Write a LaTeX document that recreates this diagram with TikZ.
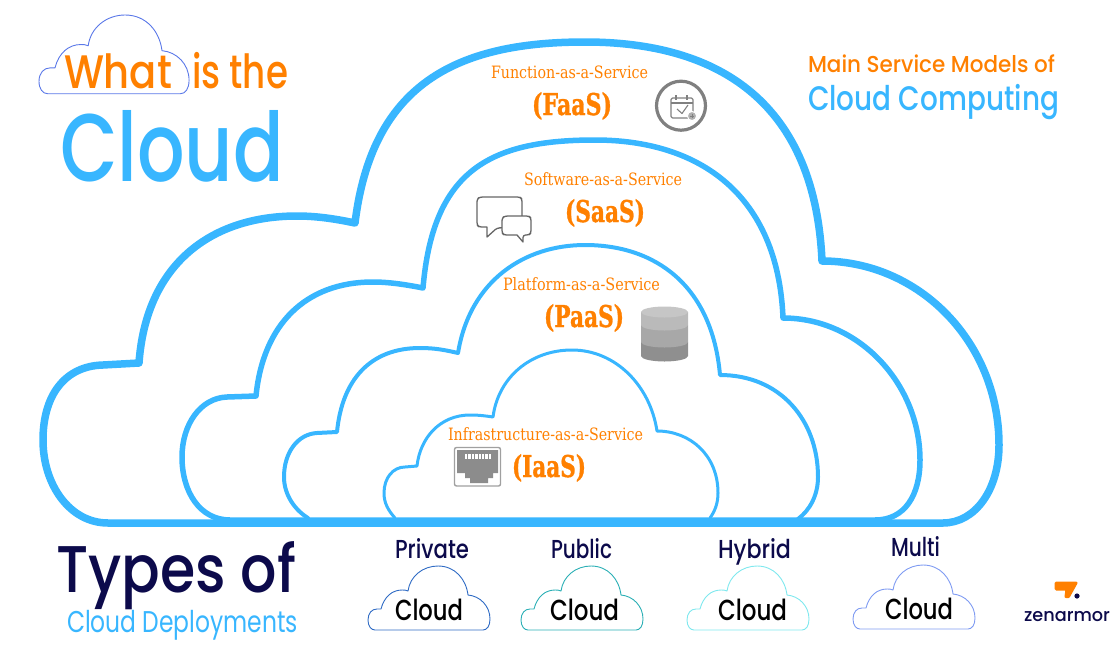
\documentclass[tikz,border=0pt]{standalone}
\usepackage{graphicx}
\usepackage{fontspec}
\setmainfont{DejaVu Serif}
\newfontfamily\serb[BoldFont={DejaVu Serif Bold},BoldFeatures={FakeBold=1.2}]{DejaVu Serif}
\newfontfamily\geo{Poppins}
\newfontfamily\geomed{Poppins Medium}
\definecolor{skyb}{HTML}{38B6FF}
\definecolor{orng}{HTML}{FF8000}
\definecolor{navy}{HTML}{0C0A4B}
\definecolor{iconbase}{HTML}{808080}
\definecolor{cwhat}{HTML}{5A78E8}
\definecolor{cpriv}{HTML}{2F6BC4}
\definecolor{cpub}{HTML}{2BAFB5}
\definecolor{chyb}{HTML}{7FE8EE}
\definecolor{cmul}{HTML}{7F9BF2}
\definecolor{cplus}{HTML}{B0B0B0}
\definecolor{cchat}{HTML}{666666}
\definecolor{db0}{HTML}{C6C6C6}
\definecolor{db1}{HTML}{BABABA}
\definecolor{db2}{HTML}{A8A8A8}
\definecolor{db3}{HTML}{8F8F8F}
\definecolor{ceth}{HTML}{A0A0A0}
\definecolor{cethf}{HTML}{8C8C8C}
\newcommand\fitw[2]{\resizebox{#1pt}{\height}{#2}}
\newcommand\smallcloud[5]{\draw[line width=#5,color=#1,line join=round,shift={(#2,#3)},scale=#4]
 (7,64) .. controls (3,64) and (0,60) .. (0,54) .. controls (0,47) and (4,43) .. (9,43) -- (13,43)
 .. controls (16,31) and (24,24) .. (34,24) .. controls (36,24) and (38,24) .. (40,25)
 .. controls (42,10) and (55,0) .. (70,0) .. controls (87,0) and (98,13) .. (100,29)
 .. controls (112,30) and (122,40) .. (122,53) .. controls (122,60) and (119,64) .. (115,64) -- cycle;}
\tikzset{
 lab/.style={anchor=base west,inner sep=0pt,outer sep=0pt},
 bigline/.style={color=skyb,line join=round,line cap=round},
 icon/.style={color=iconbase,line join=round}
}
\begin{document}
\begin{tikzpicture}[x=1pt,y=-1pt]
\useasboundingbox (0,0) rectangle (1116,651);
% outer cloud
\draw[bigline,line width=7.5pt] (943,523) -- (108,523)
 .. controls (70,523) and (43,485) .. (43,440)
 .. controls (43,395) and (65,366) .. (103,365) -- (139,363)
 .. controls (146,265) and (210,216) .. (297,216)
 .. controls (317,216) and (336,219) .. (355,223)
 .. controls (372,85) and (455,42) .. (585,42)
 .. controls (722,42) and (815,105) .. (822,261)
 .. controls (920,261) and (999,343) .. (999,445)
 .. controls (999,490) and (975,523) .. (943,523) -- cycle;
% second
\draw[bigline,line width=5.5pt] (880,520) -- (230,520)
 .. controls (200,520) and (182,492) .. (182,457)
 .. controls (182,425) and (200,398) .. (227,397) -- (256,396)
 .. controls (263,325) and (305,282) .. (373,282)
 .. controls (390,282) and (408,285) .. (423,288)
 .. controls (433,170) and (490,140) .. (595,140)
 .. controls (700,140) and (778,195) .. (783,318)
 .. controls (860,318) and (920,385) .. (920,460)
 .. controls (920,495) and (905,520) .. (875,520);
% third
\draw[bigline,line width=4pt] (308,518)
 .. controls (295,510) and (284,495) .. (284,477)
 .. controls (284,452) and (298,434) .. (317,433) -- (337,432)
 .. controls (342,380) and (370,348) .. (420,348)
 .. controls (435,348) and (445,350) .. (458,353)
 .. controls (470,280) and (525,245) .. (585,245)
 .. controls (655,245) and (712,285) .. (720,375)
 .. controls (780,375) and (818,420) .. (818,477)
 .. controls (818,495) and (810,510) .. (798,519);
% fourth
\draw[bigline,line width=3pt] (395,518)
 .. controls (388,510) and (384,503) .. (384,493)
 .. controls (384,478) and (393,467) .. (405,467) -- (417,466)
 .. controls (420,438) and (440,415) .. (470,415)
 .. controls (480,415) and (486,416) .. (493,417)
 .. controls (498,378) and (530,350) .. (572,350)
 .. controls (615,350) and (650,385) .. (657,431)
 .. controls (690,431) and (718,455) .. (718,493)
 .. controls (718,503) and (715,511) .. (710,518);
% base band
\fill[skyb] (232,519) rectangle (880,527);
% small clouds
\smallcloud{cwhat}{39}{15}{1.23}{0.9pt}
\smallcloud{cpriv}{368}{566}{1}{0.9pt}
\smallcloud{cpub}{521}{566}{1}{0.9pt}
\smallcloud{chyb}{687}{566}{1}{0.9pt}
\smallcloud{cmul}{853}{565}{1}{0.9pt}
% title texts
\node[lab,text=orng] (what) at (64,88) {\fitw{108}{\geomed\fontsize{47}{47}\selectfont What}};
\node[lab,text=orng] (isthe) at (192,88) {\fitw{96}{\geomed\fontsize{47}{47}\selectfont is the}};
\node[lab,text=skyb] (cloud) at (60,181) {\fitw{224}{\geomed\fontsize{96}{96}\selectfont Cloud}};
\node[lab,text=navy] (types) at (56,592) {\fitw{240}{\geomed\fontsize{66}{66}\selectfont Types of}};
\node[lab,text=skyb] (deploy) at (67,632) {\fitw{231}{\geo\fontsize{30}{30}\selectfont Cloud Deployments}};
\node[lab,text=orng] (mainm) at (808,72) {\fitw{247}{\geomed\fontsize{23}{23}\selectfont Main Service Models of}};
\node[lab,text=skyb] (compu) at (808,110) {\fitw{251}{\geomed\fontsize{34}{34}\selectfont Cloud Computing}};
% deployment labels
\node[lab,text=navy] (priv) at (395,558) {\fitw{74}{\geomed\fontsize{26}{26}\selectfont Private}};
\node[lab,text=navy] (publ) at (551,558) {\fitw{61}{\geomed\fontsize{26}{26}\selectfont Public}};
\node[lab,text=navy] (hybr) at (718,558) {\fitw{73}{\geomed\fontsize{26}{26}\selectfont Hybrid}};
\node[lab,text=navy] (mult) at (891,556) {\fitw{49}{\geomed\fontsize{26}{26}\selectfont Multi}};
\node[lab,text=black] (c1) at (395,620) {\fitw{68}{\geomed\fontsize{29}{29}\selectfont Cloud}};
\node[lab,text=black] (c2) at (550,620) {\fitw{69}{\geomed\fontsize{29}{29}\selectfont Cloud}};
\node[lab,text=black] (c3) at (718,620) {\fitw{69}{\geomed\fontsize{29}{29}\selectfont Cloud}};
\node[lab,text=black] (c4) at (885,619) {\fitw{68}{\geomed\fontsize{29}{29}\selectfont Cloud}};
% service labels
\node[lab,text=orng] (f1) at (491,78) {\fitw{157}{\fontsize{17}{17}\selectfont Function-as-a-Service}};
\node[lab,text=orng] (f2) at (532,115) {\fitw{80}{\serb\fontsize{30}{30}\selectfont\bfseries (FaaS)}};
\node[lab,text=orng] (s1) at (524,185) {\fitw{158}{\fontsize{17}{17}\selectfont Software-as-a-Service}};
\node[lab,text=orng] (s2) at (565,222) {\fitw{80}{\serb\fontsize{30}{30}\selectfont\bfseries (SaaS)}};
\node[lab,text=orng] (p1) at (503,290) {\fitw{157}{\fontsize{17}{17}\selectfont Platform-as-a-Service}};
\node[lab,text=orng] (p2) at (544,327) {\fitw{80}{\serb\fontsize{30}{30}\selectfont\bfseries (PaaS)}};
\node[lab,text=orng] (i1) at (448,440) {\fitw{195}{\fontsize{17}{17}\selectfont Infrastructure-as-a-Service}};
\node[lab,text=orng] (i2) at (512,477) {\fitw{74}{\serb\fontsize{30}{30}\selectfont\bfseries (IaaS)}};
% calendar icon
\draw[icon,line width=3.2pt] (681,105.7) circle (24.5);
\draw[icon,line width=1.1pt,rounded corners=1.5pt] (671,98) rectangle (693,118);
\draw[icon,line width=1.1pt] (671,103) -- (693,103);
\draw[icon,line width=1.6pt] (676,95) -- (676,100) (687,95) -- (687,100);
\draw[icon,line width=1.1pt] (677,109) -- (682,113.5) -- (688,105);
\draw[draw=white,fill=cplus,line width=1pt] (692,116) circle (4.6);
\draw[icon,line width=.7pt] (690,116) -- (694,116) (692,114) -- (692,118);
% chat icon
\draw[draw=cchat,line width=1.3pt,line join=round,fill=white,rounded corners=2.5pt]
 (480,197) -- (520,197) -- (522,199) -- (522,225) -- (520,227) -- (497,228) [sharp corners] -- (487,237) -- (487,227) [rounded corners=2.5pt] -- (479,227) -- (477,225) -- (477,199) -- cycle;
\draw[draw=cchat,line width=1.3pt,line join=round,fill=white,rounded corners=2.5pt]
 (505,216) -- (529,216) -- (531,218) -- (531,233) -- (529,235) -- (523,235) [sharp corners] -- (523,242) -- (517,235) [rounded corners=2.5pt] -- (504,235) -- (502,233) -- (502,218) -- cycle;
% database icon
\fill[db3] (641,342) -- (641,356) arc[start angle=180,end angle=360,x radius=23.5,y radius=-5.5] -- (688,342) -- cycle;
\fill[db2] (641,325) -- (641,342) arc[start angle=180,end angle=360,x radius=23.5,y radius=-5.5] -- (688,325) -- cycle;
\fill[db1] (641,312) -- (641,325) arc[start angle=180,end angle=360,x radius=23.5,y radius=-5.5] -- (688,312) -- cycle;
\fill[db0] (664.5,312) ellipse[x radius=23.5,y radius=5.5];
% ethernet icon
\draw[draw=ceth,line width=1.4pt,fill=white,rounded corners=2pt] (454.5,447.5) rectangle (500.5,486);
\fill[cethf] (457,450) -- (498,450) -- (498,473) -- (493,473) -- (493,478) -- (488,478) -- (488,483) -- (470,483) -- (470,478) -- (465,478) -- (465,473) -- (457,473) -- cycle;
\foreach \k in {0,...,7}{\fill[white] ({465+\k*3.4},454) rectangle ({467.4+\k*3.4},458.5);}
% logo
\fill[orng,draw=orng,line width=3pt,line join=round] (1056,583) -- (1076,583) -- (1068.5,596.5) -- (1066,596.5) -- (1067,589) -- (1056,589) -- cycle;
\fill[navy] (1077,596) circle (2.6);
\node[lab,text=navy] (zen) at (1024,621) {\fitw{86}{\geomed\fontsize{18}{18}\selectfont zenarmor}};
\end{tikzpicture}
\end{document}
